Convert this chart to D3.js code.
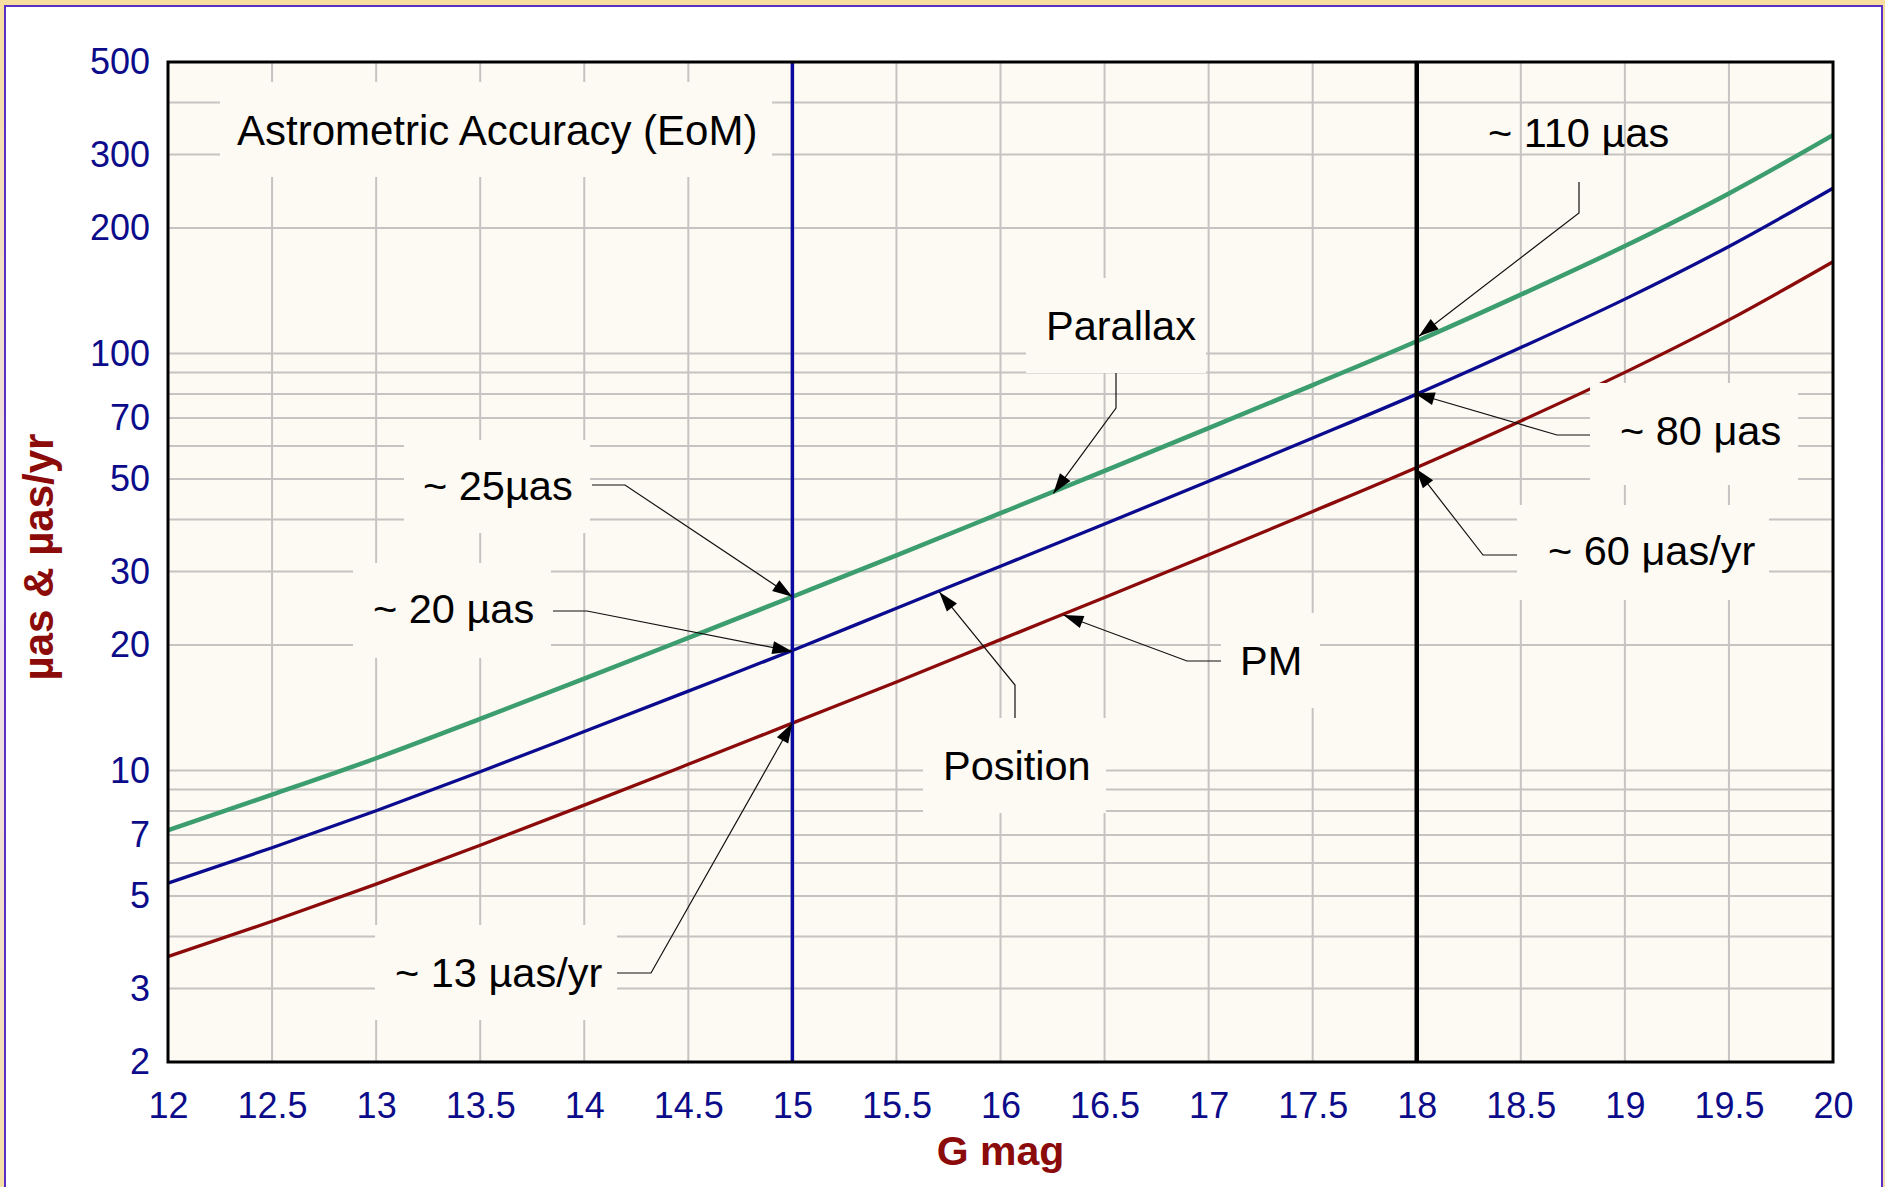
<!DOCTYPE html>
<html>
<head>
<meta charset="utf-8">
<script src="https://cdn.jsdelivr.net/npm/d3@7"></script>
<style>
  body { margin: 0; background: #fff; }
  svg { display: block; font-family: "Liberation Sans", Arial, sans-serif; }
</style>
</head>
<body>
<div id="chart"></div>
<script>
// Sample points along G magnitude, every 0.5 mag
const gMag = [12, 12.5, 13, 13.5, 14, 14.5, 15, 15.5, 16, 16.5, 17, 17.5, 18, 18.5, 19, 19.5, 20];

// End-of-mission accuracy (µas, µas/yr)
const parallax = [7.19, 8.75, 10.7, 13.3, 16.6, 20.8, 26.1, 32.8, 41.4, 52.3, 66.2, 84.0, 107, 138.4, 181, 242, 334];
const position = [5.37, 6.53, 8.01, 9.93, 12.4, 15.5, 19.4, 24.5, 30.9, 39.0, 49.4, 62.7, 79.9, 103.3, 135, 180.6, 249];
const pm = [3.58, 4.35, 5.34, 6.62, 8.26, 10.35, 12.99, 16.3, 20.6, 26.0, 32.9, 41.8, 53.3, 68.9, 90.1, 120.4, 166];

// Axis ticks
const xTicks = [12, 12.5, 13, 13.5, 14, 14.5, 15, 15.5, 16, 16.5, 17, 17.5, 18, 18.5, 19, 19.5, 20];
const yTicks = [2, 3, 5, 7, 10, 20, 30, 50, 70, 100, 200, 300, 500];
const yGrid = [3, 4, 5, 6, 7, 8, 9, 10, 20, 30, 40, 50, 60, 70, 80, 90, 100, 200, 300, 400];

// Reference magnitudes marked with vertical lines
const markerMags = [15, 18];

const W = 1885, H = 1187;
const plot = { left: 168, right: 1833, top: 62, bottom: 1062 };

const x = d3.scaleLinear().domain([12, 20]).range([plot.left, plot.right]);
const y = d3.scaleLog().domain([2, 500]).range([plot.bottom, plot.top]);

const svg = d3.select("#chart").append("svg").attr("width", W).attr("height", H);

// Outer frame with a soft gradient edge
const defs = svg.append("defs");
const grad = defs.append("linearGradient").attr("id", "edge").attr("x1", 0).attr("y1", 0).attr("x2", 0).attr("y2", 1);
grad.append("stop").attr("offset", "0%").attr("stop-color", "#f7dea0");
grad.append("stop").attr("offset", "50%").attr("stop-color", "#ece0f2");
grad.append("stop").attr("offset", "100%").attr("stop-color", "#f6dfa8");
svg.append("rect").attr("width", W).attr("height", H).attr("fill", "url(#edge)");
svg.append("rect")
  .attr("x", 5).attr("y", 6).attr("width", 1877).attr("height", H + 20)
  .attr("fill", "#fff").attr("stroke", "#5a2fc6").attr("stroke-width", 2);

// Plot background
svg.append("rect")
  .attr("x", plot.left).attr("y", plot.top)
  .attr("width", plot.right - plot.left).attr("height", plot.bottom - plot.top)
  .attr("fill", "#fdf9f3");

// Grid lines
const grid = svg.append("g").attr("stroke", "#c6c4c2").attr("stroke-width", 2);
grid.selectAll("line.v")
  .data(xTicks.slice(1, -1))
  .enter().append("line")
  .attr("x1", (d) => x(d)).attr("x2", (d) => x(d))
  .attr("y1", plot.top).attr("y2", plot.bottom);
grid.selectAll("line.h")
  .data(yGrid)
  .enter().append("line")
  .attr("x1", plot.left).attr("x2", plot.right)
  .attr("y1", (d) => y(d)).attr("y2", (d) => y(d));

// Curves
const series = [
  { name: "Parallax", values: parallax, color: "#3c9e6e", width: 4.5 },
  { name: "Position", values: position, color: "#0b0b8f", width: 3.3 },
  { name: "PM", values: pm, color: "#8b0a0a", width: 3.3 },
];
const line = d3.line()
  .x((d) => x(d[0]))
  .y((d) => y(d[1]))
  .curve(d3.curveMonotoneX);

svg.append("g")
  .selectAll("path")
  .data(series)
  .enter().append("path")
  .attr("d", (s) => line(gMag.map((g, i) => [g, s.values[i]])))
  .attr("fill", "none")
  .attr("stroke", (s) => s.color)
  .attr("stroke-width", (s) => s.width)
  .attr("stroke-linejoin", "round");

// Vertical marker lines at G = 15 and G = 18
svg.append("g")
  .selectAll("line")
  .data(markerMags)
  .enter().append("line")
  .attr("x1", (d) => x(d)).attr("x2", (d) => x(d))
  .attr("y1", plot.top).attr("y2", plot.bottom)
  .attr("stroke", (d, i) => (i === 0 ? "#0a0a9e" : "#000"))
  .attr("stroke-width", (d, i) => (i === 0 ? 3.5 : 4.5));

// Annotations: text baseline position, optional background box, leader elbow and arrow tip (data coords)
const notes = [
  { text: "Astrometric Accuracy (EoM)", tx: 237, ty: 145, size: 42, box: [220, 82, 772, 177] },
  { text: "~ 110 µas", tx: 1488, ty: 147, leader: [[1579, 182], [1579, 213]], tip: [18.01, 110] },
  { text: "Parallax", tx: 1046, ty: 340, box: [1026, 278, 1206, 373], leader: [[1116, 373], [1116, 408]], tip: [16.254, 46.2] },
  { text: "~ 80 μas", tx: 1620, ty: 445, box: [1590, 383, 1798, 485], leader: [[1590, 435], [1557, 435]], tip: [17.99, 80.3] },
  { text: "~ 60 μas/yr", tx: 1548, ty: 565, box: [1517, 505, 1769, 600], leader: [[1517, 555], [1483, 555]], tip: [17.995, 53] },
  { text: "~ 25µas", tx: 423, ty: 500, box: [404, 440, 590, 533], leader: [[592, 485], [625, 485]], tip: [15, 26.1] },
  { text: "~ 20 µas", tx: 373, ty: 623, box: [353, 563, 551, 658], leader: [[553, 611], [587, 611]], tip: [15, 19.3] },
  { text: "Position", tx: 943, ty: 780, box: [923, 718, 1106, 813], leader: [[1015, 718], [1015, 685]], tip: [15.706, 26.8] },
  { text: "PM", tx: 1240, ty: 675, box: [1221, 613, 1320, 708], leader: [[1221, 661], [1187, 661]], tip: [16.302, 23.6] },
  { text: "~ 13 µas/yr", tx: 395, ty: 987, box: [375, 925, 617, 1020], leader: [[617, 973], [651, 973]], tip: [15, 13] },
];

const ann = svg.append("g");
notes.filter((n) => n.box).forEach((n) => {
  ann.append("rect")
    .attr("x", n.box[0]).attr("y", n.box[1])
    .attr("width", n.box[2] - n.box[0]).attr("height", n.box[3] - n.box[1])
    .attr("fill", "#fdf9f3");
});

notes.filter((n) => n.leader).forEach((n) => {
  const t = [x(n.tip[0]), y(n.tip[1])];
  const pts = n.leader.concat([t]);
  ann.append("path")
    .attr("d", d3.line()(pts))
    .attr("fill", "none")
    .attr("stroke", "#111")
    .attr("stroke-width", 1.2);
  // arrow head pointing along the last segment
  const p = n.leader[n.leader.length - 1];
  const dx = t[0] - p[0], dy = t[1] - p[1];
  const len = Math.hypot(dx, dy);
  const ux = dx / len, uy = dy / len;
  const bx = t[0] - ux * 20, by = t[1] - uy * 20;
  ann.append("path")
    .attr("d", d3.line()([t, [bx - uy * 6.5, by + ux * 6.5], [bx + uy * 6.5, by - ux * 6.5]]) + "Z")
    .attr("fill", "#000");
});

ann.selectAll("text")
  .data(notes)
  .enter().append("text")
  .attr("x", (n) => n.tx)
  .attr("y", (n) => n.ty)
  .attr("font-size", (n) => n.size || 41.5)
  .attr("fill", "#000")
  .text((n) => n.text);

// Plot border
svg.append("rect")
  .attr("x", plot.left).attr("y", plot.top)
  .attr("width", plot.right - plot.left).attr("height", plot.bottom - plot.top)
  .attr("fill", "none").attr("stroke", "#000").attr("stroke-width", 3);

// Axes (labels only)
const xAxis = svg.append("g")
  .attr("transform", `translate(0,${plot.bottom})`)
  .call(d3.axisBottom(x).tickValues(xTicks).tickSize(0).tickPadding(30).tickFormat(d3.format("")));
const yAxis = svg.append("g")
  .attr("transform", `translate(${plot.left},0)`)
  .call(d3.axisLeft(y).tickValues(yTicks).tickSize(0).tickPadding(18).tickFormat(d3.format("")));

[xAxis, yAxis].forEach((a) => {
  a.select(".domain").remove();
  a.selectAll("text")
    .attr("font-size", 36)
    .attr("font-family", "Liberation Sans, Arial, sans-serif")
    .attr("fill", "#0c0c8a");
});

// Axis titles
svg.append("text")
  .attr("x", (plot.left + plot.right) / 2)
  .attr("y", 1165)
  .attr("text-anchor", "middle")
  .attr("font-size", 41)
  .attr("font-weight", "bold")
  .attr("fill", "#8b0a0a")
  .text("G mag");

svg.append("text")
  .attr("transform", `translate(53,${(plot.top + plot.bottom) / 2 - 5}) rotate(-90)`)
  .attr("text-anchor", "middle")
  .attr("font-size", 42)
  .attr("font-weight", "bold")
  .attr("fill", "#8b0a0a")
  .text("µas & µas/yr");
</script>
</body>
</html>
